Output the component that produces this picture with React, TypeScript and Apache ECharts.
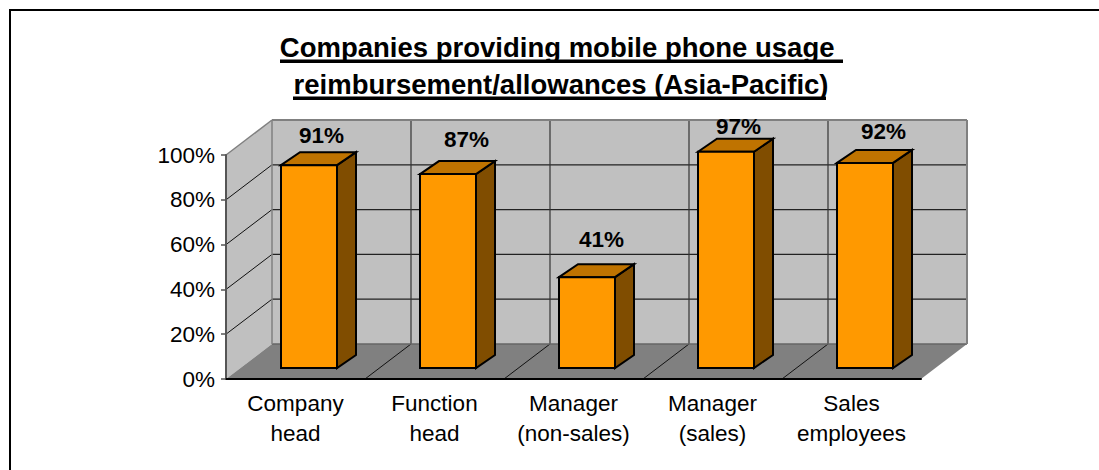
import React, { useEffect, useRef } from "react";
import * as echarts from "echarts";

const titleLines = ["Companies providing mobile phone usage ", "reimbursement/allowances (Asia-Pacific)"];
const categories = ["Company\nhead", "Function\nhead", "Manager\n(non-sales)", "Manager\n(sales)", "Sales\nemployees"];
const values = [91, 87, 41, 97, 92];
const gridValues = [20, 40, 60, 80];

const FONT = '"Liberation Sans", Arial, sans-serif';
const DEPTH_X = 46;
const DEPTH_Y = 35;
const BAR_W = 56;
const BAR_DX = 19;
const BAR_DY = 13;
const BAR_SHIFT = 13.5;
const BAR_LIFT = 11;
const labelNudgeX = [12.5, 18.5, 14.5, 12.5, 18.5];
const labelNudgeY = [18.5, 23.5, 26.5, 14, 19.5];

function renderWalls(params: any, api: any) {
  const g = params.coordSys;
  const L = g.x, R = g.x + g.width, B = g.y + g.height, T = g.y;
  const children: any[] = [];
  const fillPoly = (points: number[][], fill: string) =>
    children.push({ type: "polygon", shape: { points }, style: { fill, stroke: "none" } });
  const line = (x1: number, y1: number, x2: number, y2: number, stroke: string, lineWidth: number) =>
    children.push({ type: "line", shape: { x1, y1, x2, y2 }, style: { stroke, lineWidth, fill: "none" } });

  fillPoly([[L + DEPTH_X, T - DEPTH_Y], [R + DEPTH_X, T - DEPTH_Y], [R + DEPTH_X, B - DEPTH_Y], [L + DEPTH_X, B - DEPTH_Y]], "#C0C0C0");
  fillPoly([[L, T], [L + DEPTH_X, T - DEPTH_Y], [L + DEPTH_X, B - DEPTH_Y], [L, B]], "#C0C0C0");
  fillPoly([[L, B], [R, B], [R + DEPTH_X, B - DEPTH_Y], [L + DEPTH_X, B - DEPTH_Y]], "#808080");

  gridValues.forEach((v) => {
    const y = api.coord([0, v])[1];
    line(L, y, L + DEPTH_X, y - DEPTH_Y, "#111", 1);
    line(L + DEPTH_X, y - DEPTH_Y, R + DEPTH_X, y - DEPTH_Y, "#222", 1.2);
  });
  for (let i = 1; i < categories.length; i++) {
    const x = L + (i * g.width) / categories.length;
    line(x + DEPTH_X, T - DEPTH_Y, x + DEPTH_X, B - DEPTH_Y, "#333", 1.2);
    line(x, B, x + DEPTH_X, B - DEPTH_Y, "#111", 1);
  }
  line(L + DEPTH_X, B - DEPTH_Y, R + DEPTH_X, B - DEPTH_Y, "#666", 1.5);
  line(L, T, L + DEPTH_X, T - DEPTH_Y, "#808080", 1.5);
  line(L + DEPTH_X, T - DEPTH_Y, R + DEPTH_X, T - DEPTH_Y, "#808080", 2);
  line(L + DEPTH_X, T - DEPTH_Y, L + DEPTH_X, B - DEPTH_Y, "#808080", 1.5);
  line(R + DEPTH_X, T - DEPTH_Y, R + DEPTH_X, B - DEPTH_Y, "#808080", 2);
  return { type: "group", children };
}

function renderBar(params: any, api: any) {
  const i = api.value(0);
  const v = api.value(1);
  const [cx, yTop0] = api.coord([i, v]);
  const y0 = api.coord([i, 0])[1];
  const left = cx + BAR_SHIFT - BAR_W / 2;
  const right = left + BAR_W;
  const base = y0 - BAR_LIFT;
  const top = yTop0 - BAR_LIFT + 1;
  const stroke = { stroke: "#000", lineWidth: 2, lineJoin: "miter" };
  return {
    type: "group",
    children: [
      { type: "polygon", shape: { points: [[right, top], [right + BAR_DX, top - BAR_DY], [right + BAR_DX, base - BAR_DY], [right, base]] }, style: { fill: "#804D00", ...stroke } },
      { type: "polygon", shape: { points: [[left, top], [left + BAR_DX, top - BAR_DY], [right + BAR_DX, top - BAR_DY], [right, top]] }, style: { fill: "#BF7300", ...stroke } },
      { type: "polygon", shape: { points: [[left, top], [right, top], [right, base], [left, base]] }, style: { fill: "#FF9900", ...stroke } },
      {
        type: "text",
        style: {
          x: cx + BAR_SHIFT + labelNudgeX[i],
          y: top - labelNudgeY[i],
          text: v + "%",
          fill: "#000",
          font: `bold 22.5px ${FONT}`,
          textAlign: "center",
          textVerticalAlign: "bottom",
        },
      },
    ],
  };
}

export default function App() {
  const ref = useRef<HTMLDivElement>(null);
  useEffect(() => {
    document.body.style.margin = "0";
    const chart = echarts.init(ref.current!, undefined, { renderer: "svg" });
    chart.setOption({
      animation: false,
      backgroundColor: "#fff",
      textStyle: { fontFamily: FONT },
      title: {
        text: titleLines.join("\n"),
        left: 556,
        top: 24,
        textAlign: "center",
        textStyle: { fontFamily: FONT, fontSize: 27.5, fontWeight: "bold", color: "#000", lineHeight: 37 },
      },
      grid: { left: 226, right: 178, top: 155, height: 224, containLabel: false },
      xAxis: {
        type: "category",
        data: categories,
        boundaryGap: true,
        z: 5,
        axisLine: { lineStyle: { color: "#000", width: 2 } },
        axisTick: { length: 6, lineStyle: { color: "#666", width: 1.5 }, alignWithLabel: false },
        axisLabel: { fontFamily: FONT, fontSize: 22.5, lineHeight: 30, color: "#000", margin: 9, interval: 0 },
        splitLine: { show: false },
      },
      yAxis: {
        type: "value",
        min: 0,
        max: 100,
        interval: 20,
        z: 5,
        axisLine: { show: true, lineStyle: { color: "#555", width: 2 } },
        axisTick: { show: true, length: 5, lineStyle: { color: "#555", width: 1.5 } },
        axisLabel: { fontFamily: FONT, fontSize: 22.5, color: "#000", margin: 11, formatter: "{value}%" },
        splitLine: { show: false },
      },
      graphic: [
        { type: "rect", shape: { x: 9, y: 9, width: 1090, height: 2 }, style: { fill: "#000" } },
        { type: "rect", shape: { x: 9, y: 9, width: 2, height: 461 }, style: { fill: "#000" } },
        { type: "rect", shape: { x: 280, y: 59.5, width: 563, height: 3.5 }, style: { fill: "#000" } },
        { type: "rect", shape: { x: 293, y: 96.5, width: 533, height: 3.5 }, style: { fill: "#000" } },
      ],
      series: [
        { type: "custom", name: "walls", silent: true, z: 1, clip: false, data: [[0, 0]], renderItem: renderWalls },
        { type: "custom", name: "bars", z: 3, clip: false, encode: { x: 0, y: 1 }, data: values.map((v, i) => [i, v]), renderItem: renderBar },
      ],
    });
    return () => chart.dispose();
  }, []);
  return <div ref={ref} style={{ position: "absolute", left: 0, top: 0, width: 1099, height: 470 }} />;
}
